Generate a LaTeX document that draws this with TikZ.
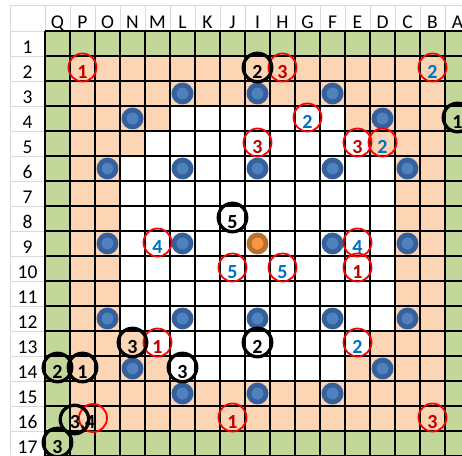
\documentclass[tikz,border=0pt]{standalone}
\usepackage{fontspec}
\setmainfont{Carlito}
\usepackage{tikz}
\usetikzlibrary{positioning}

\definecolor{fieldgreen}{HTML}{C4D79B}
\definecolor{fieldpeach}{HTML}{FCD5B4}
\definecolor{stoneblue}{HTML}{4F81BD}
\definecolor{stonering}{HTML}{36609C}
\definecolor{stoneorange}{HTML}{F79646}
\definecolor{orangering}{HTML}{B8702E}
\definecolor{numred}{HTML}{C00000}
\definecolor{numblue}{HTML}{0070C0}
\definecolor{hdrgray}{HTML}{D9D9D9}

\begin{document}
\begin{tikzpicture}[x=1pt, y=-1pt,
    hdr/.style={anchor=base, font=\fontsize{19.5}{20}\selectfont},
    num/.style={anchor=base, font=\fontsize{20}{20}\selectfont\bfseries},
    gridline/.style={line width=1.6pt, black},
    hdrline/.style={line width=0.8pt, hdrgray},
    stone/.style={circle, draw=stonering, fill=stoneblue, line width=4.8pt, minimum size=17pt, inner sep=0pt},
    centre/.style={stone, draw=orangering, fill=stoneorange},
    redring/.style={circle, draw=red, line width=1.8pt, minimum size=28pt, inner sep=0pt},
    blackring/.style={circle, draw=black, line width=3.3pt, minimum size=28.5pt, inner sep=0pt}
]
\useasboundingbox (0,0) rectangle (462,455);
\clip (0,0) rectangle (462,455);
\fill[white] (0,0) rectangle (462,455);

% header cells
\draw[hdrline] (10,5) -- (462,5);
\draw[hdrline] (10,5) -- (10,455);
\foreach \k in {0,...,17} {
  \draw[hdrline] ({45+25*\k},5) -- ({45+25*\k},31);
  \draw[hdrline] (10,{31+25*\k}) -- (45,{31+25*\k});
}
\foreach \lab [count=\c] in {Q,P,O,N,M,L,K,J,I,H,G,F,E,D,C,B,A} {
  \node[hdr] (h-\lab) at ({32.5+25*\c},28.3) {\lab};
  \foreach \r in {1,...,17}
    \coordinate (\lab\r) at ({32.5+25*\c},{18.5+25*\r});
}
\foreach \r in {1,...,17}
  \node[hdr] (row-\r) at (27.5,{28.3+25*\r}) {\r};

% board
\fill[fieldgreen] (45,31) rectangle (470,456);
\fill[fieldpeach] (70,56) rectangle (445,431);
\fill[white] (170,106) -- (345,106) -- (345,131) -- (370,131) -- (370,156) -- (395,156)
  -- (395,331) -- (370,331) -- (370,356) -- (345,356) -- (345,381) -- (170,381)
  -- (170,356) -- (145,356) -- (145,331) -- (120,331) -- (120,156) -- (145,156)
  -- (145,131) -- (170,131) -- cycle;
\foreach \k in {0,...,17} {
  \draw[gridline] ({45+25*\k},31) -- ({45+25*\k},456);
  \draw[gridline] (45,{31+25*\k}) -- (470,{31+25*\k});
}

\foreach \cell in {L3,I3,F3,N4,D4,O6,L6,I6,F6,C6,O9,L9,F9,C9,O12,L12,I12,F12,C12,N14,D14,L15,I15,F15}
  \node[stone] (s-\cell) at (\cell) {};
\node[centre] (s-I9) at (I9) {};

\foreach \cell/\n/\col in {P2/1/numred,H2/3/numred,B2/2/numblue,G4/2/numblue,I5/3/numred,
    E5/3/numred,D5/2/numblue,M9/4/numblue,E9/4/numblue,J10/5/numblue,H10/5/numblue,
    E10/1/numred,M13/1/numred,E13/2/numblue,J16/1/numred,B16/3/numred} {
  \node[redring] (r-\cell) at ([yshift=1pt]\cell) {};
  \node[num, text=\col] (n-\cell) at ([yshift=-9.5pt]\cell) {\n};
}
\foreach \cell/\n in {I2/2,A4/1,J8/5,N13/3,I13/2,L14/3,Q14/2,P14/1,Q17/3} {
  \node[blackring] (k-\cell) at ([yshift=1pt]\cell) {};
  \node[num] (n-\cell) at ([yshift=-9.5pt]\cell) {\n};
}
\node[redring] (r-P16) at ([xshift=10.5pt,yshift=0.5pt]P16) {};
\node[blackring] (k-P16) at ([xshift=-8pt,yshift=-1pt]P16) {};
\node[num] (n-P16) at ([yshift=-9.5pt]P16) {3,4};
\end{tikzpicture}
\end{document}
